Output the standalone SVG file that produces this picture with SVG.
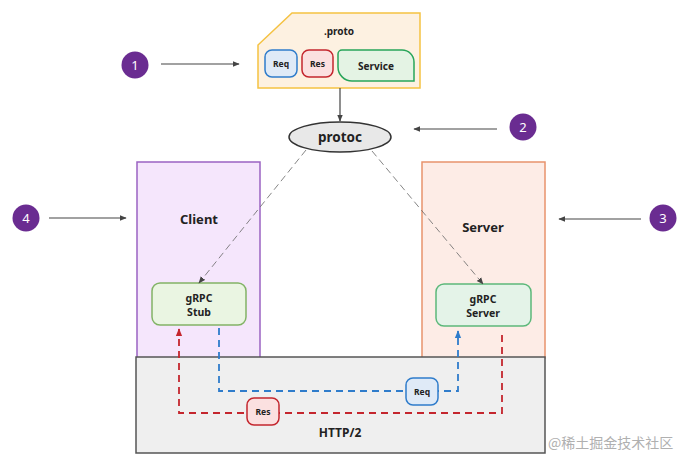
<svg xmlns="http://www.w3.org/2000/svg" width="691" height="467" viewBox="0 0 691 467">
<style>
text{font-family:"Noto Sans","Open Sans",sans-serif;font-weight:bold;fill:#222;text-anchor:middle}
.num{fill:#6a2c91}
.numt{fill:#fff;font-weight:normal;font-size:13px}
.ptr{stroke:#444;stroke-width:1.2;fill:none}
.gen{stroke:#666;stroke-width:0.8;stroke-dasharray:7 4;fill:none}
</style>
<defs>
<marker id="ah" viewBox="0 0 10 10" refX="9" refY="5" markerWidth="7" markerHeight="7" orient="auto" markerUnits="userSpaceOnUse"><path d="M0,1 L10,5 L0,9 z" fill="#444"/></marker>
<marker id="ahb" viewBox="0 0 10 10" refX="9" refY="5" markerWidth="8" markerHeight="8" orient="auto" markerUnits="userSpaceOnUse"><path d="M0,1 L10,5 L0,9 z" fill="#2f7ccb"/></marker>
<marker id="ahr" viewBox="0 0 10 10" refX="9" refY="5" markerWidth="8" markerHeight="8" orient="auto" markerUnits="userSpaceOnUse"><path d="M0,1 L10,5 L0,9 z" fill="#c4262e"/></marker>
</defs>

<g id="client">
<rect x="137" y="162" width="123" height="196" fill="#f5e6fc" stroke="#9a63c2" stroke-width="1.5"/>
<text x="199" y="224" font-size="13">Client</text>
</g>
<g id="server">
<rect x="422" y="162" width="123" height="196" fill="#fdece6" stroke="#e8936c" stroke-width="1.5"/>
<text x="483" y="232" font-size="13">Server</text>
</g>
<g id="http2">
<rect x="136" y="357" width="409" height="96" fill="#efefef" stroke="#555" stroke-width="1.5"/>
<text x="340" y="437" font-size="12">HTTP/2</text>
</g>

<g id="proto">
<path d="M292,13 H420 V88 H258 V45 Z" fill="#fdf1e1" stroke="#f5c242" stroke-width="1.5"/>
<text x="339" y="35" font-size="10">.proto</text>
<g id="proto-req">
<rect x="265" y="50" width="32" height="27" rx="7" fill="#dfeaf7" stroke="#2f7ccb" stroke-width="1.5"/>
<text x="281" y="67" font-size="8.5">Req</text>
</g>
<g id="proto-res">
<rect x="302" y="50" width="31" height="27" rx="7" fill="#fbe0e0" stroke="#c4262e" stroke-width="1.5"/>
<text x="317.5" y="67" font-size="8.5">Res</text>
</g>
<g id="proto-service">
<path d="M342,50 H402 A12,12 0 0 1 414,62 V81 H352 A14,14 0 0 1 338,67 V54 A4,4 0 0 1 342,50 Z" fill="#e4f3e4" stroke="#27a55a" stroke-width="1.5"/>
<text x="376" y="70" font-size="10">Service</text>
</g>
</g>

<g id="protoc">
<ellipse cx="340" cy="137" rx="51" ry="15" fill="#e8e8e8" stroke="#333" stroke-width="1.5"/>
<text x="340" y="142" font-size="13.5">protoc</text>
</g>

<g id="stub">
<rect x="152" y="283" width="94" height="42" rx="8" fill="#eaf5e2" stroke="#82b366" stroke-width="1.5"/>
<text x="199" y="302" font-size="10.5">gRPC</text>
<text x="199" y="316" font-size="10.5">Stub</text>
</g>
<g id="grpcserver">
<rect x="436" y="284" width="95" height="42" rx="8" fill="#e4f3e8" stroke="#5cb87a" stroke-width="1.5"/>
<text x="483" y="303" font-size="10.5">gRPC</text>
<text x="483" y="317" font-size="10.5">Server</text>
</g>

<g id="steps">
<g id="step1"><circle class="num" cx="135" cy="65" r="13.5"/><text class="numt" x="135" y="70">1</text></g>
<g id="step2"><circle class="num" cx="523" cy="127" r="13.5"/><text class="numt" x="523" y="132">2</text></g>
<g id="step3"><circle class="num" cx="663" cy="218" r="13.5"/><text class="numt" x="663" y="223">3</text></g>
<g id="step4"><circle class="num" cx="26" cy="218" r="13.5"/><text class="numt" x="26" y="223">4</text></g>
</g>

<g id="connectors">
<line class="ptr" x1="161" y1="64" x2="239" y2="64" marker-end="url(#ah)"/>
<line class="ptr" x1="497" y1="129" x2="414" y2="129" marker-end="url(#ah)"/>
<line class="ptr" x1="641" y1="219" x2="559" y2="219" marker-end="url(#ah)"/>
<line class="ptr" x1="49" y1="218" x2="126" y2="218" marker-end="url(#ah)"/>
<line class="ptr" x1="340" y1="88" x2="340" y2="121" marker-end="url(#ah)"/>
<line class="gen" x1="306" y1="150" x2="199" y2="283" marker-end="url(#ah)"/>
<line class="gen" x1="372" y1="151" x2="483" y2="284" marker-end="url(#ah)"/>
<path d="M219,328 V391 H458 V331" fill="none" stroke="#2f7ccb" stroke-width="1.8" stroke-dasharray="7 5" marker-end="url(#ahb)"/>
<path d="M502,335 V413 H179 V329" fill="none" stroke="#c4262e" stroke-width="1.8" stroke-dasharray="7 5" marker-end="url(#ahr)"/>
<g id="label-req">
<rect x="406" y="378" width="32" height="27" rx="7" fill="#dfeaf7" stroke="#2f7ccb" stroke-width="1.5"/>
<text x="422" y="395" font-size="8.5">Req</text>
</g>
<g id="label-res">
<rect x="247" y="398" width="32" height="27" rx="7" fill="#fbe0e0" stroke="#c4262e" stroke-width="1.5"/>
<text x="263" y="415" font-size="8.5">Res</text>
</g>
</g>

<text x="548" y="448" font-size="14" style="font-weight:normal;fill:#b0b0b0;text-anchor:start;font-family:'Noto Sans CJK SC','Noto Sans',sans-serif">@稀土掘金技术社区</text>
</svg>
